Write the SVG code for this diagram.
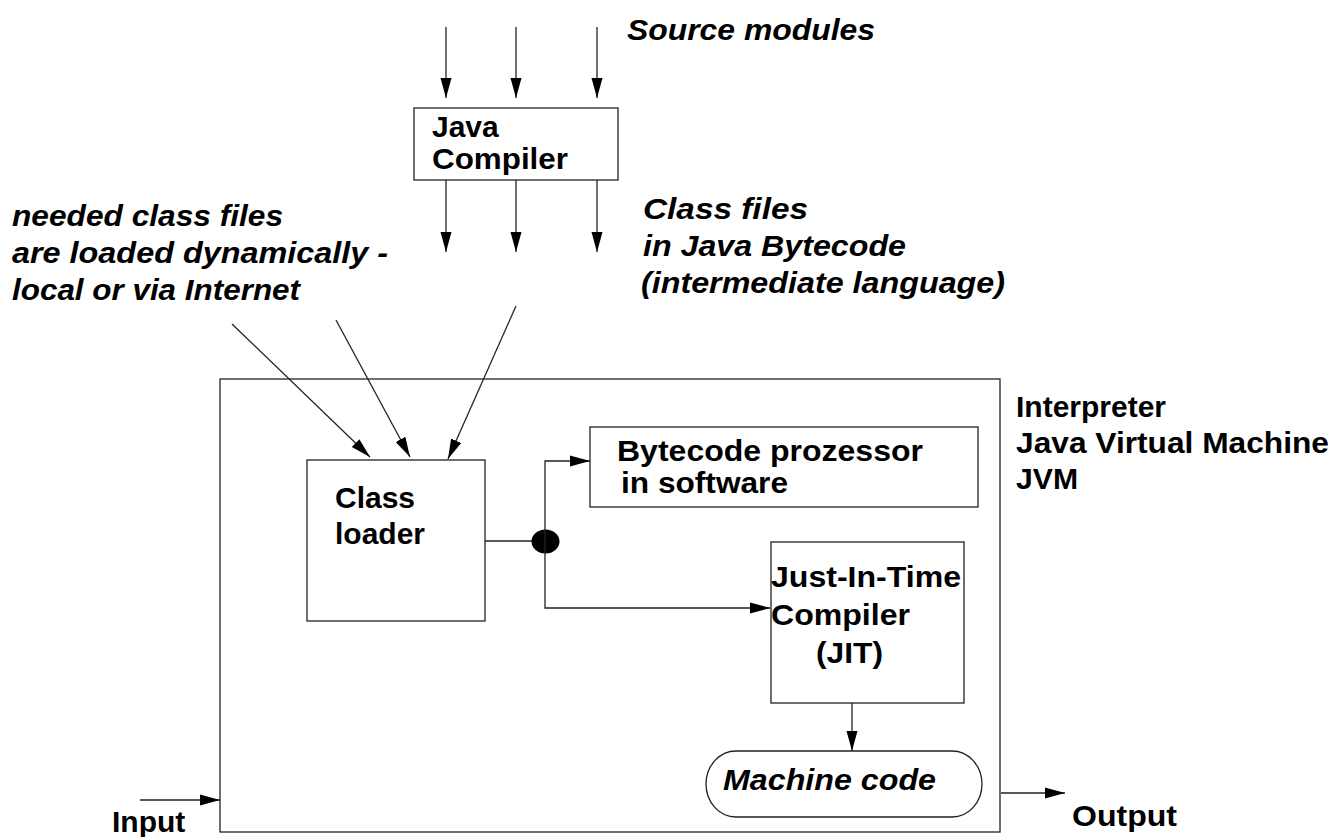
<svg xmlns="http://www.w3.org/2000/svg" width="1340" height="837" viewBox="0 0 1340 837">
<defs>
<marker id="ah" markerUnits="userSpaceOnUse" markerWidth="20" markerHeight="12" refX="20" refY="6" orient="auto">
<path d="M0,0.5 L20,6 L0,11.5 z" fill="#000"/>
</marker>
<style>
.t{font-family:"Liberation Sans",Arial,sans-serif;font-weight:bold;font-size:30px;fill:#000}
.i{font-style:italic}
.box{fill:#fff;stroke:#222;stroke-width:1.3}
.c{fill:none;stroke:#222;stroke-width:1.3}
.a{fill:none;stroke:#222;stroke-width:1.3;marker-end:url(#ah)}
</style>
</defs>
<rect width="1340" height="837" fill="#fff"/>

<g id="outer-jvm">
<rect class="box" x="220" y="379" width="780" height="453"/>
<text class="t" x="1016" y="417" textLength="150" lengthAdjust="spacingAndGlyphs">Interpreter</text>
<text class="t" x="1016" y="453" textLength="313" lengthAdjust="spacingAndGlyphs">Java Virtual Machine</text>
<text class="t" x="1016" y="489" textLength="62" lengthAdjust="spacingAndGlyphs">JVM</text>
</g>

<g id="source-label">
<text class="t i" x="627" y="40" textLength="248" lengthAdjust="spacingAndGlyphs">Source modules</text>
</g>

<g id="java-compiler">
<rect class="box" x="414" y="108" width="204" height="72"/>
<text class="t" x="432" y="137">Java</text>
<text class="t" x="432" y="169" textLength="136" lengthAdjust="spacingAndGlyphs">Compiler</text>
</g>

<g id="needed-label">
<text class="t i" x="12" y="226" textLength="271" lengthAdjust="spacingAndGlyphs">needed class files</text>
<text class="t i" x="12" y="263" textLength="376" lengthAdjust="spacingAndGlyphs">are loaded dynamically -</text>
<text class="t i" x="12" y="300" textLength="288" lengthAdjust="spacingAndGlyphs">local or via Internet</text>
</g>

<g id="classfiles-label">
<text class="t i" x="643" y="219" textLength="165" lengthAdjust="spacingAndGlyphs">Class files</text>
<text class="t i" x="643" y="256" textLength="263" lengthAdjust="spacingAndGlyphs">in Java Bytecode</text>
<text class="t i" x="641" y="293" textLength="364" lengthAdjust="spacingAndGlyphs">(intermediate language)</text>
</g>

<g id="class-loader">
<rect class="box" x="307" y="460" width="178" height="161"/>
<text class="t" x="335" y="508">Class</text>
<text class="t" x="335" y="544">loader</text>
</g>

<g id="bytecode-prozessor">
<rect class="box" x="590" y="427" width="388" height="80"/>
<text class="t" x="617" y="461" textLength="306" lengthAdjust="spacingAndGlyphs">Bytecode prozessor</text>
<text class="t" x="621" y="493" textLength="167" lengthAdjust="spacingAndGlyphs">in software</text>
</g>

<g id="jit">
<rect class="box" x="771" y="542" width="193" height="161"/>
<text class="t" x="771" y="587" textLength="190" lengthAdjust="spacingAndGlyphs">Just-In-Time</text>
<text class="t" x="771" y="625" textLength="139" lengthAdjust="spacingAndGlyphs">Compiler</text>
<text class="t" x="816" y="663" textLength="67" lengthAdjust="spacingAndGlyphs">(JIT)</text>
</g>

<g id="machine-code">
<rect class="box" x="706" y="751" width="276" height="66" rx="30" ry="33"/>
<text class="t i" x="723" y="790" textLength="213" lengthAdjust="spacingAndGlyphs">Machine code</text>
</g>

<g id="io-labels">
<text class="t" x="112" y="832">Input</text>
<text class="t" x="1072" y="826" textLength="105" lengthAdjust="spacingAndGlyphs">Output</text>
</g>

<g id="connectors">
<line class="a" x1="446" y1="27" x2="446" y2="98"/>
<line class="a" x1="516" y1="27" x2="516" y2="98"/>
<line class="a" x1="597" y1="27" x2="597" y2="98"/>
<line class="a" x1="446" y1="180" x2="446" y2="252"/>
<line class="a" x1="516" y1="180" x2="516" y2="252"/>
<line class="a" x1="597" y1="180" x2="597" y2="252"/>
<line class="a" x1="232" y1="324" x2="370" y2="457"/>
<line class="a" x1="336" y1="320" x2="410" y2="457"/>
<line class="a" x1="516" y1="306" x2="448" y2="459"/>
<line class="c" x1="485" y1="541" x2="532" y2="541"/>
<ellipse cx="545.5" cy="541.5" rx="14" ry="12" fill="#000"/>
<polyline class="a" points="545,541 545,461 590,461"/>
<polyline class="a" points="545,541 545,608 770,608"/>
<line class="a" x1="852" y1="703" x2="852" y2="751"/>
<line class="a" x1="140" y1="800" x2="220" y2="800"/>
<line class="a" x1="1001" y1="793" x2="1065" y2="793"/>
</g>
</svg>
